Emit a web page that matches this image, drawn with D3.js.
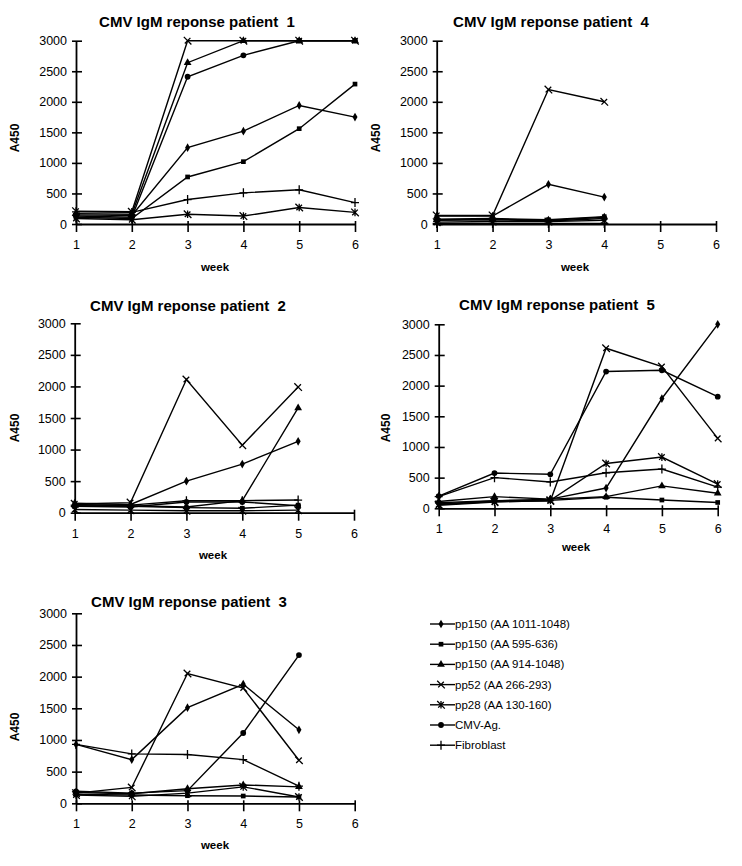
<!DOCTYPE html>
<html><head><meta charset="utf-8">
<script src="https://cdn.jsdelivr.net/npm/d3@7"></script>
<style>
body{margin:0;background:#fff}
text{font-family:"Liberation Sans",Arial,Helvetica,sans-serif;fill:#000}
</style>
</head><body>
<svg id="chart" width="742" height="866"></svg>
<script>
// ---------------- data ----------------
const weeks = [1, 2, 3, 4, 5, 6];
const xTicks = [1, 2, 3, 4, 5, 6];
const yTicks = [0, 500, 1000, 1500, 2000, 2500, 3000];
const seriesNames = [
  "pp150 (AA 1011-1048)",
  "pp150 (AA 595-636)",
  "pp150 (AA 914-1048)",
  "pp52 (AA 266-293)",
  "pp28 (AA 130-160)",
  "CMV-Ag.",
  "Fibroblast"
];
const markerTypes = ["diamond", "square", "triangle", "x", "asterisk", "circle", "plus"];

// values per week (1..6), series in seriesNames order; null = not measured
const patient1 = [
  [150, 140, 1250, 1520, 1940, 1750],
  [110, 90, 770, 1020, 1560, 2290],
  [170, 160, 2640, 3000, 3000, 3000],
  [210, 200, 3000, 3000, 3000, 3000],
  [90, 70, 160, 130, 270, 190],
  [130, 110, 2410, 2760, 3000, 3000],
  [200, 190, 400, 510, 560, 350]
];
const patient4 = [
  [130, 130, 650, 440, null, null],
  [80, 90, 70, 120, null, null],
  [70, 80, 60, 110, null, null],
  [140, 140, 2200, 2000, null, null],
  [30, 40, 40, 60, null, null],
  [60, 70, 50, 90, null, null],
  [10, 10, 10, 10, null, null]
];
const patient2 = [
  [150, 130, 500, 770, 1130, null],
  [110, 100, 80, 70, 120, null],
  [130, 110, 90, 190, 1660, null],
  [140, 160, 2110, 1070, 1990, null],
  [50, 40, 30, 30, 40, null],
  [100, 90, 170, 170, 110, null],
  [120, 120, 190, 190, 200, null]
];
const patient5 = [
  [70, 120, 150, 330, 1790, 3000],
  [90, 125, 130, 180, 135, 95],
  [110, 190, 150, 190, 365, 245],
  [60, 110, 120, 2610, 2310, 1140],
  [50, 100, 130, 730, 835, 395],
  [200, 575, 555, 2230, 2250, 1820],
  [190, 500, 430, 580, 640, 345]
];
const patient3 = [
  [930, 690, 1510, 1880, 1160, null],
  [140, 130, 120, 115, 100, null],
  [170, 150, 230, 290, 260, null],
  [160, 250, 2050, 1820, 680, null],
  [130, 110, 160, 260, 100, null],
  [190, 160, 200, 1110, 2340, null],
  [930, 780, 770, 690, 270, null]
];

// ---------------- layout ----------------
const panels = [
  {n: 1, data: patient1, x0: 76,    x1: 355,   yT: 40.7,  yB: 224,   tx: 197, ty: 27,  wx: 215, wy: 271, ax: 19,  ay: 138},
  {n: 4, data: patient4, x0: 436.7, x1: 716,   yT: 40.7,  yB: 224,   tx: 551, ty: 27,  wx: 575, wy: 271, ax: 380, ay: 138},
  {n: 2, data: patient2, x0: 74.7,  x1: 354,   yT: 323.3, yB: 512.7, tx: 188, ty: 311, wx: 213, wy: 559, ax: 19,  ay: 428},
  {n: 5, data: patient5, x0: 438.7, x1: 717.7, yT: 324.3, yB: 508.3, tx: 557, ty: 310, wx: 576, wy: 551, ax: 390, ay: 428},
  {n: 3, data: patient3, x0: 76,    x1: 354.7, yT: 613.3, yB: 803.3, tx: 189, ty: 607, wx: 215, wy: 849, ax: 19,  ay: 727}
];

const svg = d3.select("#chart");

function drawMarker(g, type, x, y) {
  const s = 2.8;
  if (type === "diamond") {
    g.append("path").attr("d", d3.symbol(d3.symbolDiamond, 22)()).attr("transform", `translate(${x},${y})`).attr("fill", "#000");
  } else if (type === "square") {
    g.append("path").attr("d", d3.symbol(d3.symbolSquare, 22)()).attr("transform", `translate(${x},${y})`).attr("fill", "#000");
  } else if (type === "triangle") {
    g.append("path").attr("d", d3.symbol(d3.symbolTriangle, 26)()).attr("transform", `translate(${x},${y})`).attr("fill", "#000");
  } else if (type === "circle") {
    g.append("path").attr("d", d3.symbol(d3.symbolCircle, 26)()).attr("transform", `translate(${x},${y})`).attr("fill", "#000");
  } else if (type === "x") {
    g.append("path").attr("d", `M${x - s - 1},${y - s - 1}L${x + s + 1},${y + s + 1}M${x - s},${y + s}L${x + s},${y - s}`)
      .attr("stroke", "#000").attr("stroke-width", 1.3).attr("fill", "none");
  } else if (type === "asterisk") {
    g.append("path").attr("d", `M${x - s - 1},${y - s - 1}L${x + s + 1},${y + s + 1}M${x - s},${y + s}L${x + s},${y - s}M${x},${y - s - 1}L${x},${y + s + 1}`)
      .attr("stroke", "#000").attr("stroke-width", 1.3).attr("fill", "none");
  } else if (type === "plus") {
    g.append("path").attr("d", `M${x},${y - 4.5}L${x},${y + 4.5}M${x - 4},${y}L${x + 4},${y}`)
      .attr("stroke", "#000").attr("stroke-width", 1.3).attr("fill", "none");
  }
}

panels.forEach(p => {
  const x = d3.scaleLinear().domain([1, 6]).range([p.x0, p.x1]);
  const y = d3.scaleLinear().domain([0, 3000]).range([p.yB, p.yT]);
  const g = svg.append("g");

  // y axis
  const ya = g.append("g").attr("transform", `translate(${p.x0},0)`)
    .call(d3.axisLeft(y).tickValues(yTicks).tickSize(0).tickPadding(9).tickFormat(d3.format("d")));
  ya.select(".domain").attr("stroke", "#000").attr("stroke-width", 1.8);
  ya.selectAll(".tick line").attr("x1", -4).attr("x2", 6).attr("stroke", "#000").attr("stroke-width", 1.6);
  ya.selectAll(".tick text").attr("font-size", 12.5).attr("font-family", "Liberation Sans, Arial, sans-serif").attr("fill", "#000");

  // x axis
  const xa = g.append("g").attr("transform", `translate(0,${p.yB})`)
    .call(d3.axisBottom(x).tickValues(xTicks).tickSize(0).tickPadding(16).tickFormat(d3.format("d")));
  xa.select(".domain").attr("stroke", "#000").attr("stroke-width", 1.8);
  xa.selectAll(".tick line").attr("y1", -3).attr("y2", 8).attr("stroke", "#000").attr("stroke-width", 1.6);
  xa.selectAll(".tick text").attr("font-size", 12.5).attr("font-family", "Liberation Sans, Arial, sans-serif").attr("fill", "#000");

  // lines
  const line = d3.line().defined(d => d.v != null).x(d => x(d.w)).y(d => y(d.v));
  p.data.forEach((vals, i) => {
    const pts = weeks.map((w, j) => ({w, v: vals[j]}));
    g.append("path").attr("d", line(pts)).attr("fill", "none").attr("stroke", "#000").attr("stroke-width", 1.4);
  });
  p.data.forEach((vals, i) => {
    weeks.forEach((w, j) => {
      if (vals[j] != null) drawMarker(g, markerTypes[i], x(w), y(vals[j]));
    });
  });

  // texts
  g.append("text").attr("x", p.tx).attr("y", p.ty).attr("text-anchor", "middle")
    .attr("font-size", 15).attr("font-weight", "bold").style("white-space", "pre")
    .text("CMV IgM reponse patient  " + p.n);
  g.append("text").attr("x", p.wx).attr("y", p.wy).attr("text-anchor", "middle")
    .attr("font-size", 11.5).attr("font-weight", "bold").text("week");
  g.append("text").attr("transform", `translate(${p.ax},${p.ay}) rotate(-90)`).attr("text-anchor", "middle")
    .attr("font-size", 12).attr("font-weight", "bold").text("A450");
});

// legend
const leg = svg.append("g");
seriesNames.forEach((name, i) => {
  const ly = 624 + i * 20.2;
  leg.append("line").attr("x1", 430).attr("x2", 455).attr("y1", ly).attr("y2", ly).attr("stroke", "#000").attr("stroke-width", 1.4);
  drawMarker(leg, markerTypes[i], 441, ly);
  leg.append("text").attr("x", 455).attr("y", ly + 4).attr("font-size", 11.5).text(name);
});
</script>
</body></html>
